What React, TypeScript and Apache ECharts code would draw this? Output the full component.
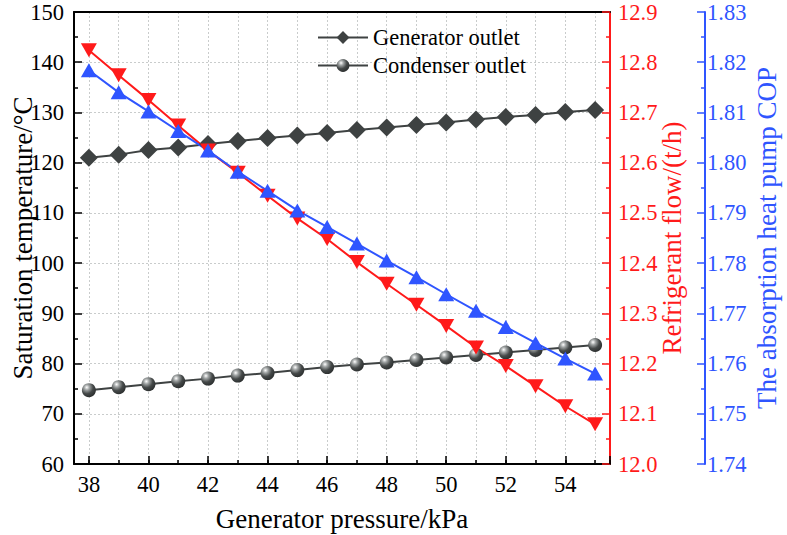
import React, { useEffect, useRef } from "react";
import * as echarts from "echarts";

const pressures = [38, 39, 40, 41, 42, 43, 44, 45, 46, 47, 48, 49, 50, 51, 52, 53, 54, 55];
const generatorOutlet = [121.0, 121.6, 122.5, 123.0, 123.7, 124.3, 124.9, 125.4, 125.9, 126.5, 127.0, 127.5, 128.0, 128.6, 129.1, 129.5, 130.1, 130.5];
const condenserOutlet = [74.7, 75.3, 75.9, 76.5, 77.0, 77.6, 78.1, 78.7, 79.3, 79.8, 80.2, 80.7, 81.2, 81.7, 82.2, 82.7, 83.2, 83.7];
const refrigerantFlow = [12.824, 12.774, 12.725, 12.674, 12.624, 12.58, 12.534, 12.489, 12.448, 12.402, 12.359, 12.317, 12.275, 12.232, 12.195, 12.155, 12.115, 12.079];
const cop = [1.8184, 1.814, 1.8102, 1.8063, 1.8024, 1.7982, 1.7944, 1.7905, 1.7872, 1.7839, 1.7805, 1.7772, 1.7738, 1.7705, 1.7673, 1.7641, 1.761, 1.758];

const FONT = "Liberation Serif";
const RED = "#ff1a1a";
const BLUE = "#2f55ff";
const GRAY = "#3e4242";
const TICK_FS = 22.5;
const NAME_FS = 27;

export default function App() {
  const ref = useRef<HTMLDivElement>(null);
  useEffect(() => {
    if (!ref.current) return;
    const chart = echarts.init(ref.current, null, { renderer: "svg" });
    const pair = (ys: number[]) => pressures.map((x, i) => [x, ys[i]]);
    const sphere = new echarts.graphic.RadialGradient(0.35, 0.3, 0.75, [
      { offset: 0, color: "#ffffff" },
      { offset: 0.25, color: "#a0a4a4" },
      { offset: 0.6, color: "#454949" },
      { offset: 1, color: "#2a2d2d" },
    ]);
    const grid = "#c9cccc";
    chart.setOption({
      animation: false,
      textStyle: { fontFamily: FONT },
      grid: {
        left: 74,
        right: 177,
        top: 12,
        bottom: 71,
        outerBoundsMode: "none",
        containLabel: false,
        show: false,
      },
      legend: {
        orient: "vertical",
        left: 312,
        top: 21,
        itemWidth: 50,
        itemHeight: 16,
        itemGap: 5,
        data: ["Generator outlet", "Condenser outlet"],
        textStyle: { fontFamily: FONT, fontSize: 22.5, color: "#000" },
      },
      xAxis: [
        {
          type: "value",
          min: 37.5,
          max: 55.5,
          splitNumber: 18,
          position: "bottom",
          offset: 0,
          name: "Generator pressure/kPa",
          nameLocation: "middle",
          nameGap: 41,
          nameMoveOverlap: false,
          nameTextStyle: { fontFamily: FONT, fontSize: 27, color: "#000" },
          axisLine: { lineStyle: { color: "#000", width: 2 } },
          axisTick: { inside: true, length: 4, lineStyle: { color: "#000", width: 1.5 } },
          axisLabel: {
            fontFamily: FONT,
            fontSize: TICK_FS,
            color: "#000",
            margin: 9,
            formatter: (v: number) => (Math.abs(v - Math.round(v)) < 1e-6 && Math.round(v) % 2 === 0 && v < 55 ? String(Math.round(v)) : ""),
          },
          splitLine: { show: true, lineStyle: { color: grid, type: [2, 2], width: 1 } },
        },
        {
          type: "value",
          min: 37.5,
          max: 55.5,
          splitNumber: 9,
          position: "bottom",
          offset: 0,
          axisLine: { show: false },
          axisTick: { inside: true, length: 8, lineStyle: { color: "#000", width: 1.5 } },
          axisLabel: { show: false },
          splitLine: { show: false },
        },
        {
          type: "value",
          min: 37.5,
          max: 55.5,
          position: "top",
          offset: 0,
          axisLine: { show: true, lineStyle: { color: "#000", width: 2 } },
          axisTick: { show: false },
          axisLabel: { show: false },
          splitLine: { show: false },
        },
      ],
      yAxis: [
        {
          type: "value",
          min: 60,
          max: 150,
          interval: 10,
          position: "left",
          name: "Saturation temperature/°C",
          nameLocation: "middle",
          nameGap: 38,
          nameMoveOverlap: false,
          nameTextStyle: { fontFamily: FONT, fontSize: NAME_FS, color: "#000" },
          axisLine: { show: true, lineStyle: { color: "#000", width: 2 } },
          axisTick: { inside: true, length: 8, lineStyle: { color: "#000", width: 1.5 } },
          minorTick: { show: true, splitNumber: 2, length: 4, lineStyle: { color: "#000", width: 1.5 } },
          axisLabel: { fontFamily: FONT, fontSize: TICK_FS, color: "#000", margin: 10 },
          splitLine: { show: true, lineStyle: { color: grid, type: [2, 2], width: 1 } },
        },
        {
          type: "value",
          min: 12.0,
          max: 12.9,
          interval: 0.1,
          position: "right",
          offset: 0,
          name: "Refrigerant flow/(t/h)",
          nameLocation: "middle",
          nameGap: 48,
          nameRotate: 90,
          nameMoveOverlap: false,
          nameTextStyle: { fontFamily: FONT, fontSize: NAME_FS, color: RED },
          axisLine: { show: true, lineStyle: { color: RED, width: 2 } },
          axisTick: { inside: true, length: 8, lineStyle: { color: RED, width: 1.5 } },
          minorTick: { show: true, splitNumber: 2, length: 4, lineStyle: { color: RED, width: 1.5 } },
          axisLabel: { fontFamily: FONT, fontSize: TICK_FS, color: RED, margin: 8, formatter: (v: number) => v.toFixed(1) },
          splitLine: { show: false },
        },
        {
          type: "value",
          min: 1.74,
          max: 1.83,
          interval: 0.01,
          position: "right",
          offset: 95,
          name: "The absorption heat pump COP",
          nameLocation: "middle",
          nameGap: 48,
          nameRotate: 90,
          nameMoveOverlap: false,
          nameTextStyle: { fontFamily: FONT, fontSize: NAME_FS, color: BLUE },
          axisLine: { show: true, lineStyle: { color: BLUE, width: 2 } },
          axisTick: { inside: true, length: 8, lineStyle: { color: BLUE, width: 1.5 } },
          minorTick: { show: true, splitNumber: 2, length: 4, lineStyle: { color: BLUE, width: 1.5 } },
          axisLabel: { fontFamily: FONT, fontSize: TICK_FS, color: BLUE, margin: 2, formatter: (v: number) => v.toFixed(2) },
          splitLine: { show: false },
        },
      ],
      series: [
        {
          name: "Generator outlet",
          type: "line",
          xAxisIndex: 0,
          yAxisIndex: 0,
          data: pair(generatorOutlet),
          symbol: "diamond",
          symbolSize: 18,
          lineStyle: { color: GRAY, width: 2 },
          itemStyle: { color: GRAY },
        },
        {
          name: "Condenser outlet",
          type: "line",
          xAxisIndex: 0,
          yAxisIndex: 0,
          data: pair(condenserOutlet),
          symbol: "circle",
          symbolSize: 14,
          lineStyle: { color: GRAY, width: 2 },
          itemStyle: { color: sphere },
        },
        {
          name: "Refrigerant flow",
          type: "line",
          xAxisIndex: 0,
          yAxisIndex: 1,
          data: pair(refrigerantFlow),
          symbol: "triangle",
          symbolRotate: 180,
          symbolSize: [16, 14],
          lineStyle: { color: RED, width: 2 },
          itemStyle: { color: RED },
        },
        {
          name: "COP",
          type: "line",
          xAxisIndex: 0,
          yAxisIndex: 2,
          data: pair(cop),
          symbol: "triangle",
          symbolSize: [16, 14],
          lineStyle: { color: BLUE, width: 2 },
          itemStyle: { color: BLUE },
        },
      ],
    });
    return () => chart.dispose();
  }, []);
  return <div ref={ref} style={{ position: "absolute", left: 0, top: 0, width: 787, height: 535 }} />;
}
